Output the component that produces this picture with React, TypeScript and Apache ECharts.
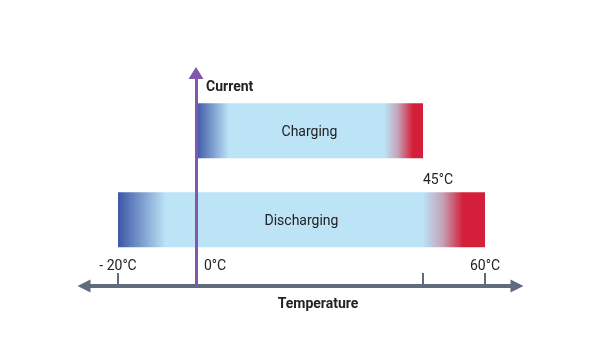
import React, { useEffect, useRef } from "react";
import * as echarts from "echarts";

// ---- data ----
const categories = ["Discharging", "Charging"];
const rangeStart = [-20, 0];
const rangeEnd = [60, 45];
const tickTemps = [-20, 0, 45, 60];
const tickLabels = ["- 20°C", "0°C", "45°C", "60°C"];
const xTitle = "Temperature";
const yTitle = "Current";

// ---- layout / style (schematic, non-linear temperature scale) ----
const knotTemps = [-20, 0, 45, 60];
const knotOffsets = [0, 78, 305, 367];
const warp = (t: number) => {
  for (let i = 0; i < knotTemps.length - 1; i++) {
    if (t <= knotTemps[i + 1] || i === knotTemps.length - 2) {
      const f = (t - knotTemps[i]) / (knotTemps[i + 1] - knotTemps[i]);
      return knotOffsets[i] + f * (knotOffsets[i + 1] - knotOffsets[i]);
    }
  }
  return 0;
};

const DARK_BLUE = "#3d56a6";
const LIGHT_BLUE = "#bce3f6";
const MAUVE = "#c4a2b6";
const RED = "#d41f3a";
const SLATE = "#606b7e";
const PURPLE = "#8357ae";
const TEXT = "#222222";
const FONT = "Roboto, 'Noto Sans', sans-serif";

const gradientStops = [
  [0, 0.13, 0.83, 0.885, 0.94, 1],
  [0, 0.145, 0.83, 0.89, 0.955, 1],
];

export default function App() {
  const ref = useRef<HTMLDivElement>(null);
  useEffect(() => {
    if (!ref.current) return;
    const chart = echarts.init(ref.current, undefined, { renderer: "svg" });
    const labelMap: Record<string, string> = {};
    tickTemps.forEach((t, i) => (labelMap[String(warp(t))] = tickLabels[i]));
    const data = categories.map((c, i) => [warp(rangeStart[i]), warp(rangeEnd[i]), i, c]);

    chart.setOption({
      animation: false,
      textStyle: { fontFamily: FONT },
      grid: { left: 84, width: 433, top: 73, height: 213 },
      xAxis: {
        type: "value",
        min: -34,
        max: 399,
        name: xTitle,
        nameLocation: "middle",
        nameGap: 10,
        nameTextStyle: {
          color: TEXT,
          fontSize: 14,
          fontWeight: "bold",
          fontFamily: FONT,
          padding: [0, 0, 0, 35],
        },
        splitLine: { show: false },
        axisLine: {
          show: true,
          onZero: false,
          symbol: ["triangle", "triangle"],
          symbolSize: [13, 13],
          lineStyle: { color: SLATE, width: 4 },
        },
        axisTick: {
          show: true,
          inside: true,
          length: 13,
          customValues: tickTemps.map(warp),
          lineStyle: { color: SLATE, width: 2 },
        },
        axisLabel: {
          show: true,
          inside: true,
          margin: 14,
          customValues: [warp(-20), warp(0), warp(60)],
          color: TEXT,
          fontSize: 14,
          fontFamily: FONT,
          formatter: (v: number) => {
            const s = labelMap[String(v)] || "";
            return v === warp(0) ? "{z|" + s + "}" : s;
          },
          rich: {
            z: { padding: [0, 0, 0, 38], color: TEXT, fontSize: 14, fontFamily: FONT },
          },
        },
      },
      yAxis: {
        type: "value",
        min: -0.744,
        max: 1.649,
        show: false,
      },
      graphic: [
        {
          type: "text",
          left: 206,
          top: 79,
          style: { text: yTitle, fill: TEXT, font: "bold 14px " + FONT },
        },
      ],
      series: [
        {
          type: "custom",
          data,
          encode: { x: [0, 1], y: 2 },
          renderItem: (params: any, api: any) => {
            const i = params.dataIndex;
            const s = api.coord([api.value(0), api.value(2)]);
            const e = api.coord([api.value(1), api.value(2)]);
            const h = api.size([0, 1])[1] * 0.618;
            const st = gradientStops[i];
            const fill = new echarts.graphic.LinearGradient(0, 0, 1, 0, [
              { offset: st[0], color: DARK_BLUE },
              { offset: st[1], color: LIGHT_BLUE },
              { offset: st[2], color: LIGHT_BLUE },
              { offset: st[3], color: MAUVE },
              { offset: st[4], color: RED },
              { offset: st[5], color: RED },
            ]);
            return {
              type: "group",
              children: [
                {
                  type: "rect",
                  shape: { x: s[0], y: s[1] - h / 2, width: e[0] - s[0], height: h },
                  style: { fill },
                },
                {
                  type: "text",
                  style: {
                    text: categories[i],
                    x: (s[0] + e[0]) / 2,
                    y: s[1],
                    align: "center",
                    verticalAlign: "middle",
                    fill: TEXT,
                    font: "14px " + FONT,
                  },
                },
              ],
            };
          },
          markLine: {
            silent: true,
            z: 10,
            symbol: ["none", "triangle"],
            symbolSize: [15, 12],
            label: { show: false },
            lineStyle: { color: PURPLE, width: 3, type: "solid" },
            data: [{ xAxis: warp(0) }],
          },
          markPoint: {
            silent: true,
            symbol: "circle",
            symbolSize: 0,
            label: {
              show: true,
              formatter: tickLabels[2],
              color: TEXT,
              fontSize: 14,
              fontFamily: FONT,
              offset: [15, -41],
            },
            data: [{ coord: [warp(45), 0] }],
          },
        },
      ],
    });
    return () => chart.dispose();
  }, []);
  return (
    <div
      ref={ref}
      style={{ position: "fixed", left: 0, top: 0, width: 615, height: 355 }}
    />
  );
}
